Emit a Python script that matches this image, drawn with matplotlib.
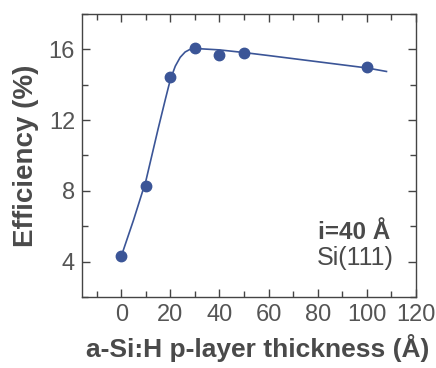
import matplotlib
matplotlib.use("Agg")
import matplotlib.pyplot as plt
from matplotlib.ticker import MultipleLocator

# measured points
thickness = [0, 10, 20, 30, 40, 50, 100]
efficiency = [4.3, 8.3, 14.45, 16.05, 15.7, 15.8, 15.02]

# guide-to-the-eye curve
curve_x = [0, 5, 10, 15, 18, 20, 22, 24, 26, 28, 30, 40, 50, 60, 80, 100, 108]
curve_y = [4.3, 6.35, 8.55, 11.5, 13.2, 14.3, 15.05, 15.55, 15.85, 16.0, 16.05, 15.97, 15.82, 15.65, 15.3, 14.95, 14.75]

blue = "#3b5597"
grey = "#4a4a4a"

plt.rcParams['font.family'] = ['Liberation Sans', 'DejaVu Sans']

fig = plt.figure(figsize=(4.36, 3.68), dpi=100)
ax = fig.add_axes([0.188, 0.193, 0.766, 0.769])

ax.plot(curve_x, curve_y, color=blue, lw=1.2, zorder=2)
ax.plot(thickness, efficiency, "o", color=blue, ms=7.5, zorder=3)

ax.set_xlim(-16, 120)
ax.set_ylim(2, 18)
ax.xaxis.set_major_locator(MultipleLocator(20))
ax.xaxis.set_minor_locator(MultipleLocator(10))
ax.yaxis.set_major_locator(MultipleLocator(4))
ax.yaxis.set_minor_locator(MultipleLocator(2))
ax.tick_params(which="both", direction="in", top=True, right=True,
               colors="#444444", labelcolor="#555555", labelsize=17, width=1)
ax.tick_params(which="major", length=6, pad=5)
ax.tick_params(which="minor", length=4)
for s in ax.spines.values():
    s.set_color("#444444")
    s.set_linewidth(1)

ax.set_xlabel("a-Si:H p-layer thickness (Å)", fontsize=19, fontweight="bold", color=grey, labelpad=6)
ax.xaxis.set_label_coords(0.525, -0.13)
ax.set_ylabel("Efficiency (%)", fontsize=20, fontweight="bold", color=grey, labelpad=7)

ax.text(109.5, 5.65, "i=40 Å", fontsize=17.5, fontweight="bold", color=grey, ha="right", va="center")
ax.text(111, 4.2, "Si(111)", fontsize=18, color=grey, ha="right", va="center")

fig.savefig("out.png", dpi=100)
